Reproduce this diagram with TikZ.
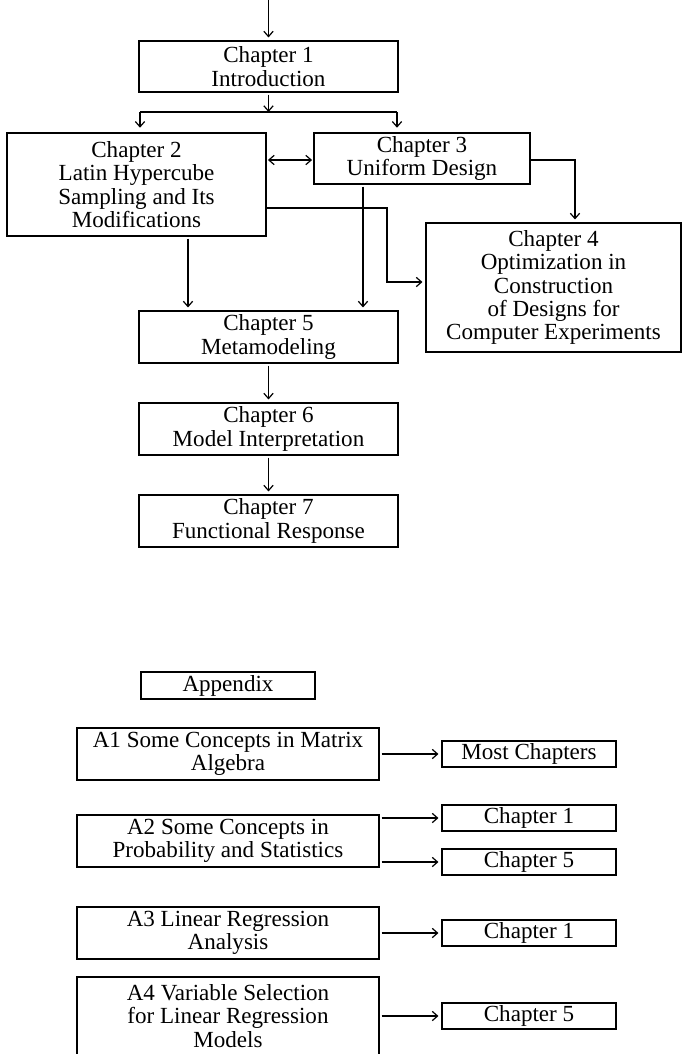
\documentclass[tikz,border=0pt]{standalone}
\usepackage{fontspec}
\setmainfont{Liberation Serif}
\usetikzlibrary{arrows.meta,calc}
\newlength\pxu
\setlength\pxu{0.75pt}
\begin{document}
\begin{tikzpicture}[x=0.75pt,y=-0.75pt,
  box/.style={draw,line width=0.9pt,align=center,inner sep=0pt,
    font=\fontsize{17.3}{17.6}\selectfont},
  arr/.style={line width=0.9pt,-{Straight Barb[length=4pt,width=7pt]},
    shorten >=2.2pt,shorten <=1.5pt},
  darr/.style={line width=0.9pt,{Straight Barb[length=4pt,width=7pt]}-{Straight Barb[length=4pt,width=7pt]},
    shorten >=1pt,shorten <=1pt},
  ln/.style={line width=0.9pt}
]
\useasboundingbox (0,0) rectangle (682,1054);
% main chapters
\node[box,minimum width=259\pxu,minimum height=51\pxu] (ch1) at (268.5,66.5) {Chapter 1\\Introduction};
\node[box,minimum width=259\pxu,minimum height=103\pxu] (ch2) at (136.5,184.5) {Chapter 2\\Latin Hypercube\\Sampling and Its\\Modifications};
\node[box,minimum width=216\pxu,minimum height=51\pxu] (ch3) at (422,158.5) {Chapter 3\\Uniform Design};
\node[box,minimum width=255\pxu,minimum height=129\pxu] (ch4) at (553.5,287.5) {Chapter 4\\Optimization in\\Construction\\of Designs for\\Computer Experiments};
\node[box,minimum width=259\pxu,minimum height=52\pxu] (ch5) at (268.5,337) {Chapter 5\\Metamodeling};
\node[box,minimum width=259\pxu,minimum height=52\pxu] (ch6) at (268.5,429) {Chapter 6\\Model Interpretation};
\node[box,minimum width=259\pxu,minimum height=52\pxu] (ch7) at (268.5,521) {Chapter 7\\Functional Response};
% appendix
\node[box,minimum width=174\pxu,minimum height=27\pxu] (app) at (228,685.5) {Appendix};
\node[box,minimum width=302\pxu,minimum height=52\pxu] (a1) at (228,754) {A1 Some Concepts in Matrix\\Algebra};
\node[box,minimum width=174\pxu,minimum height=26\pxu] (most) at (529,754) {Most Chapters};
\node[box,minimum width=302\pxu,minimum height=52\pxu] (a2) at (228,841) {A2 Some Concepts in\\Probability and Statistics};
\node[box,minimum width=174\pxu,minimum height=26\pxu] (c1a) at (529,818) {Chapter 1};
\node[box,minimum width=174\pxu,minimum height=26\pxu] (c5a) at (529,862) {Chapter 5};
\node[box,minimum width=302\pxu,minimum height=52\pxu] (a3) at (228,933) {A3 Linear Regression\\Analysis};
\node[box,minimum width=174\pxu,minimum height=26\pxu] (c1b) at (529,933) {Chapter 1};
\node[box,minimum width=302\pxu,minimum height=78\pxu] (a4) at (228,1016) {A4 Variable Selection\\for Linear Regression\\Models};
\node[box,minimum width=174\pxu,minimum height=26\pxu] (c5b) at (529,1016) {Chapter 5};
% coordinates
\coordinate (top) at (268.5,0);
\coordinate (split) at (268.5,112);
\coordinate (sl) at (140,112);
\coordinate (sr) at (397,112);
\coordinate (k4) at (387,282);
\coordinate (d3) at ($(ch3.west)+(0,1.5)$);
\coordinate (e3) at ($(ch3.east)+(0,1.5)$);
\coordinate (n4) at ($(ch4.north)+(21.5,0)$);
\coordinate (e2) at ($(ch2.east)+(0,23.5)$);
\coordinate (b2) at ($(ch2.south)+(51.5,0)$);
\coordinate (b3) at ($(ch3.south)+(-59,0)$);
% connectors
\draw[arr,shorten <=0pt] (top) -- (ch1.north);
\draw[arr,shorten >=0pt] (ch1.south) -- (split);
\draw[ln] (sl) -- (sr);
\draw[arr,shorten <=0pt,shorten >=3.5pt] (sl) -- (sl |- ch2.north);
\draw[arr,shorten <=0pt,shorten >=3.5pt] (sr) -- (sr |- ch3.north);
\draw[darr] (d3) -- (d3 -| ch2.east);
\draw[arr,shorten <=0pt] (e3) -| (n4);
\draw[arr,shorten <=0pt] (e2) -| (k4) -- (k4 -| ch4.west);
\draw[arr] (b2) -- (b2 |- ch5.north);
\draw[arr] (b3) -- (b3 |- ch5.north);
\draw[arr] (ch5) -- (ch6);
\draw[arr] (ch6) -- (ch7);
\draw[arr] (a1) -- (most);
\draw[arr] (a2.east |- c1a) -- (c1a.west);
\draw[arr] (a2.east |- c5a) -- (c5a.west);
\draw[arr] (a3) -- (c1b);
\draw[arr] (a4) -- (c5b);
\end{tikzpicture}
\end{document}
